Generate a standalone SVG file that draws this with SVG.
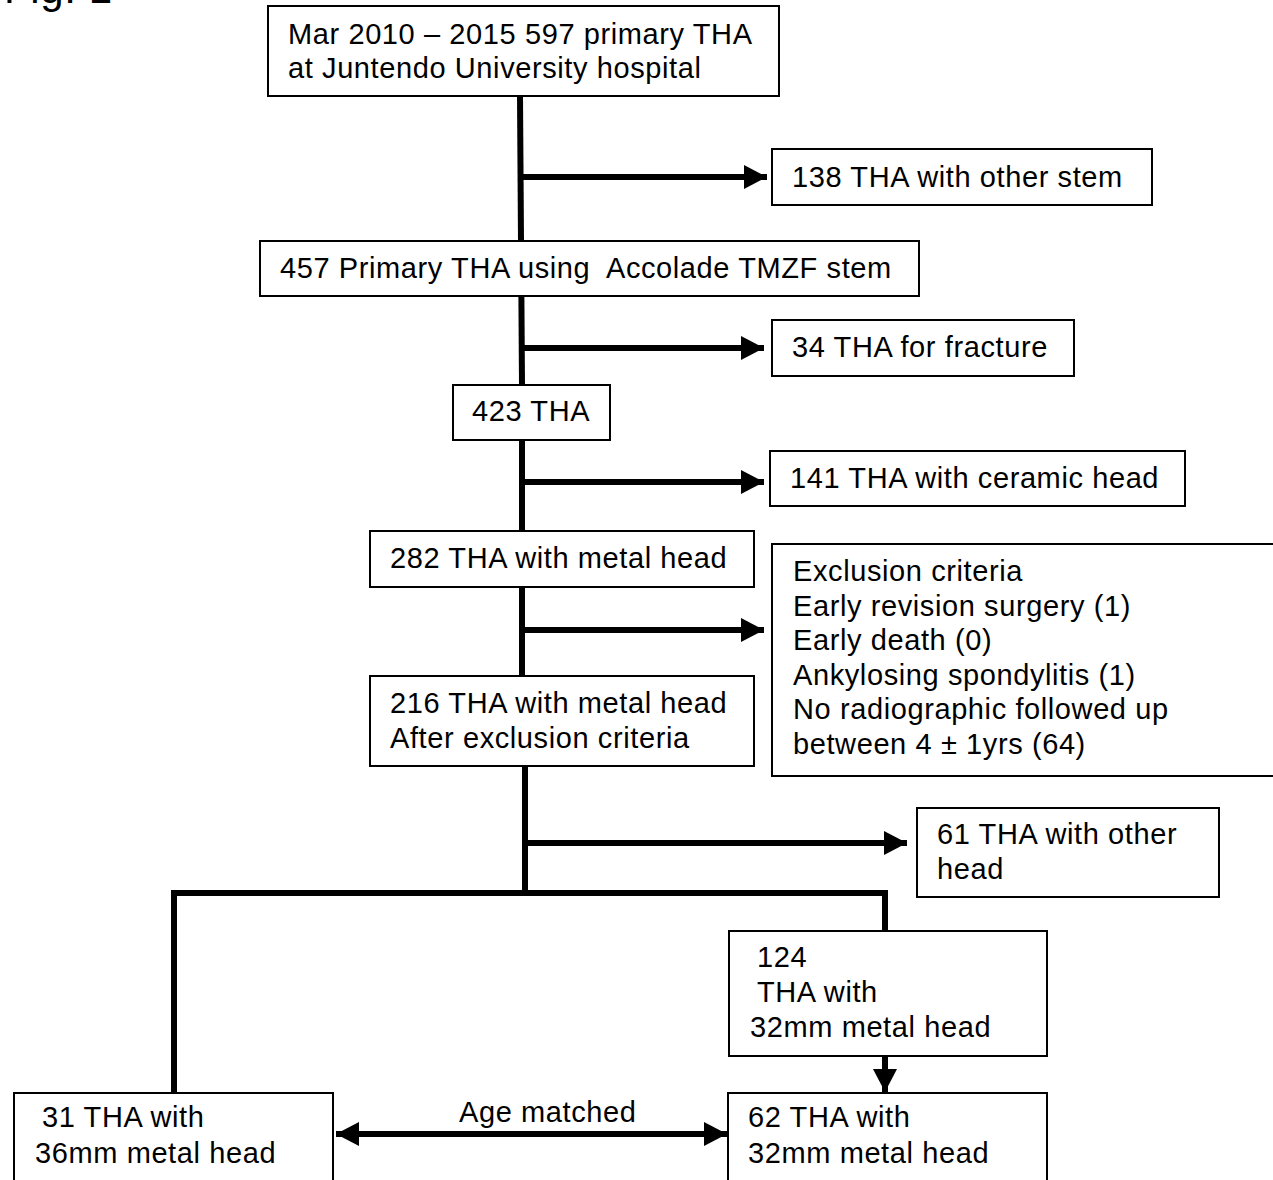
<svg xmlns="http://www.w3.org/2000/svg" width="1273" height="1180" viewBox="0 0 1273 1180">
<style>
.box{fill:#fff;stroke:#000;stroke-width:2}
.t{font-family:"Liberation Sans","Noto Sans CJK JP",sans-serif;font-size:29px;letter-spacing:0.6px;fill:#000}
.c{fill:none;stroke:#000;stroke-width:6}
</style>
<defs>
<marker id="ah" markerUnits="userSpaceOnUse" markerWidth="24" markerHeight="26" refX="23" refY="13" orient="auto-start-reverse" viewBox="0 0 24 26">
<path d="M0,1 L23,13 L0,25 z" fill="#000"/>
</marker>
</defs>
<rect width="1273" height="1180" fill="#fff"/>
<text class="t" x="4" y="3" style="font-size:42px">Fig. 1</text>
<g id="connectors">
<line class="c" x1="520" y1="96" x2="522" y2="385"/>
<line class="c" x1="520" y1="177" x2="767" y2="177" marker-end="url(#ah)"/>
<line class="c" x1="522" y1="348" x2="764" y2="348" marker-end="url(#ah)"/>
<line class="c" x1="522" y1="440" x2="522" y2="531"/>
<line class="c" x1="522" y1="482" x2="764" y2="482" marker-end="url(#ah)"/>
<line class="c" x1="522" y1="587" x2="522" y2="676"/>
<line class="c" x1="522" y1="630" x2="764" y2="630" marker-end="url(#ah)"/>
<line class="c" x1="525" y1="766" x2="525" y2="893"/>
<line class="c" x1="525" y1="843" x2="907" y2="843" marker-end="url(#ah)"/>
<polyline class="c" points="174,1092 174,893 885,893 885,931"/>
<line class="c" x1="885" y1="1056" x2="885" y2="1092" marker-end="url(#ah)"/>
<line class="c" x1="336" y1="1134" x2="727" y2="1134" marker-start="url(#ah)" marker-end="url(#ah)"/>
</g>
<g id="n1"><rect class="box" x="268" y="6" width="511" height="90"/><text class="t" x="288" y="44">Mar 2010 – 2015 597 primary THA</text><text class="t" x="288" y="78">at Juntendo University hospital</text></g>
<g id="n2"><rect class="box" x="772" y="149" width="380" height="56"/><text class="t" x="792" y="187">138 THA with other stem</text></g>
<g id="n3"><rect class="box" x="260" y="241" width="659" height="55"/><text class="t" x="280" y="278" xml:space="preserve">457 Primary THA using  Accolade TMZF stem</text></g>
<g id="n4"><rect class="box" x="772" y="320" width="302" height="56"/><text class="t" x="792" y="357">34 THA for fracture</text></g>
<g id="n5"><rect class="box" x="453" y="385" width="157" height="55"/><text class="t" x="472" y="421">423 THA</text></g>
<g id="n6"><rect class="box" x="770" y="451" width="415" height="55"/><text class="t" x="790" y="488">141 THA with ceramic head</text></g>
<g id="n7"><rect class="box" x="370" y="531" width="384" height="56"/><text class="t" x="390" y="568">282 THA with metal head</text></g>
<g id="n8"><rect class="box" x="772" y="544" width="520" height="232"/>
<text class="t" x="793" y="581">Exclusion criteria</text>
<text class="t" x="793" y="616">Early revision surgery (1)</text>
<text class="t" x="793" y="650">Early death (0)</text>
<text class="t" x="793" y="685">Ankylosing spondylitis (1)</text>
<text class="t" x="793" y="719">No radiographic followed up</text>
<text class="t" x="793" y="754">between 4 ± 1yrs (64)</text></g>
<g id="n9"><rect class="box" x="370" y="676" width="384" height="90"/><text class="t" x="390" y="713">216 THA with metal head</text><text class="t" x="390" y="748">After exclusion criteria</text></g>
<g id="n10"><rect class="box" x="917" y="808" width="302" height="89"/><text class="t" x="937" y="844">61 THA with other</text><text class="t" x="937" y="879">head</text></g>
<g id="n11"><rect class="box" x="729" y="931" width="318" height="125"/><text class="t" x="757" y="967">124</text><text class="t" x="757" y="1002">THA with</text><text class="t" x="750" y="1037">32mm metal head</text></g>
<g id="n12"><rect class="box" x="14" y="1093" width="319" height="100"/><text class="t" x="42" y="1127">31 THA with</text><text class="t" x="35" y="1163">36mm metal head</text></g>
<g id="n13"><rect class="box" x="728" y="1093" width="319" height="100"/><text class="t" x="748" y="1127">62 THA with</text><text class="t" x="748" y="1163">32mm metal head</text></g>
<text class="t" x="459" y="1122">Age matched</text>
</svg>
